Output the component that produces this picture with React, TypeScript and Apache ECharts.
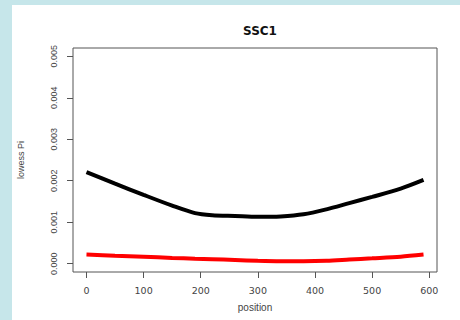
import React, { useEffect, useRef } from "react";
import * as echarts from "echarts";

const positions = [0, 50, 100, 150, 190, 220, 260, 300, 340, 380, 420, 460, 500, 550, 590];
const blackSeries = [0.00221, 0.00193, 0.00166, 0.0014, 0.00122, 0.00117, 0.00115, 0.00113, 0.00114, 0.00119, 0.00131, 0.00146, 0.00161, 0.00181, 0.00202];
const redSeries = [0.00022, 0.00019, 0.00017, 0.00014, 0.00012, 0.00011, 0.00009, 0.00007, 0.00006, 0.00006, 0.00007, 0.0001, 0.00013, 0.00017, 0.00022];
const xTicks = [0, 100, 200, 300, 400, 500, 600];
const yTicks = [0, 0.001, 0.002, 0.003, 0.004, 0.005];

export default function App() {
  const ref = useRef<HTMLDivElement>(null);
  useEffect(() => {
    if (!ref.current) return;
    const chart = echarts.init(ref.current, null, { renderer: "svg" });
    const textColor = "#444";
    const boxColor = "#555";
    chart.setOption({
      animation: false,
      backgroundColor: "#c6e6ea",
      graphic: [
        { type: "rect", shape: { x: 12, y: 5, width: 448, height: 315 }, style: { fill: "#ffffff" }, z: -10 },
      ],
      title: {
        text: "SSC1",
        left: 255,
        textAlign: "center",
        top: 20,
        textStyle: { fontFamily: "DejaVu Sans", fontWeight: "bold", fontSize: 12, color: "#111" },
      },
      grid: { left: 73, right: 23, top: 48, bottom: 48, show: true, borderColor: boxColor, borderWidth: 1, backgroundColor: "transparent" },
      xAxis: {
        type: "value",
        min: -23.6,
        max: 613.6,
        name: "position",
        nameLocation: "middle",
        nameGap: 30,
        nameTextStyle: { fontFamily: "Liberation Sans", fontSize: 10, color: textColor },
        axisLine: { show: false, onZero: false },
        splitLine: { show: false },
        axisTick: { show: true, inside: false, length: 6, lineStyle: { color: boxColor }, customValues: xTicks },
        axisLabel: { margin: 13, fontFamily: "DejaVu Sans", fontSize: 9.5, color: textColor, customValues: xTicks, formatter: (v: number) => String(v) },
      },
      yAxis: {
        type: "value",
        min: -0.0002,
        max: 0.0052,
        name: "lowess Pi",
        nameLocation: "middle",
        nameGap: 48,
        nameRotate: 90,
        nameTextStyle: { fontFamily: "Liberation Sans", fontSize: 9, color: textColor },
        axisLine: { show: false, onZero: false },
        splitLine: { show: false },
        axisTick: { show: true, inside: false, length: 6, lineStyle: { color: boxColor }, customValues: yTicks },
        axisLabel: { margin: 15, rotate: 90, fontFamily: "Liberation Sans", fontSize: 9, color: textColor, customValues: yTicks, formatter: (v: number) => v.toFixed(3) },
      },
      series: [
        {
          type: "line",
          data: positions.map((p, i) => [p, blackSeries[i]]),
          smooth: 0.3,
          showSymbol: false,
          lineStyle: { color: "#000000", width: 4 },
        },
        {
          type: "line",
          data: positions.map((p, i) => [p, redSeries[i]]),
          smooth: 0.3,
          showSymbol: false,
          lineStyle: { color: "#ff0000", width: 4 },
        },
      ],
    });
    return () => chart.dispose();
  }, []);
  return <div ref={ref} style={{ position: "fixed", left: 0, top: 0, width: 460, height: 320 }} />;
}
